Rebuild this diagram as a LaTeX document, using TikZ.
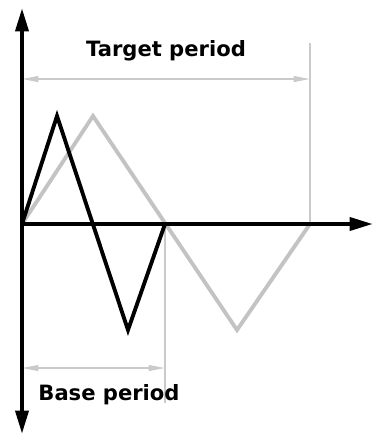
\documentclass[tikz,border=0pt]{standalone}
\usepackage{fontspec}
\setmainfont{DejaVu Sans}
\usepackage{xcolor}
\usetikzlibrary{
arrows.meta,
positioning
}
\definecolor{WaveGray}{HTML}{C3C3C3}
\definecolor{DimGray}{HTML}{CACACA}

\begin{document}
\begin{tikzpicture}[
    x=0.03cm,
    y=-0.03cm,
    font=\bfseries\fontsize{18}{21}\selectfont,
    >=Latex,
    axisline/.style={
        line width=3.5pt,
        black
    },
    waveline/.style={
        line width=3.3pt,
        line join=miter
    },
    dimline/.style={
        DimGray,
        line width=1.4pt,
        {Triangle[length=14pt,width=5pt]}-{Triangle[length=14pt,width=5pt]}
    },
    tickline/.style={
        DimGray,
        line width=0.9pt
    }
]

% =====================================================
% CANVAS
% =====================================================
\useasboundingbox (0,0) rectangle (373,436);

% =====================================================
% KEY POINTS
% =====================================================
\coordinate (origin) at (22,224);
\coordinate (ytop) at (22,8);
\coordinate (ybot) at (22,434);
\coordinate (xend) at (373,224);
\coordinate (basept) at (165,224);
\coordinate (targetpt) at (310,224);

% =====================================================
% PERIOD MARKERS
% =====================================================
\coordinate (targettop) at (310,43);
\coordinate (basebot) at (165,403);

\draw[tickline] (targetpt) -- (targettop);
\draw[tickline] (basept) -- (basebot);

\coordinate (targetl) at (22,79);
\coordinate (targetr) at (310,79);
\draw[dimline] (targetl) -- (targetr);

\coordinate (basel) at (22,368);
\coordinate (baser) at (165,368);
\draw[dimline] (basel) -- (baser);

% =====================================================
% TARGET WAVE (gray)
% =====================================================
\draw[
    waveline,
    WaveGray
]
(origin) -- (93,116) -- (237,330) -- (targetpt);

% =====================================================
% BASE WAVE (black)
% =====================================================
\draw[
    waveline,
    black
]
(origin) -- (57,116) -- (128,330) -- (basept);

% =====================================================
% AXES
% =====================================================
\draw[
    axisline,
    {Triangle[length=20pt,width=11pt]}-{Triangle[length=20pt,width=11pt]}
]
(ybot) -- (ytop);

\draw[
    axisline,
    -{Triangle[length=20pt,width=11pt]}
]
(origin) -- (xend);

% =====================================================
% LABELS
% =====================================================
\node (targetlab) at (166,51) {Target period};
\node (baselab) at (109,395) {Base period};

\end{tikzpicture}
\end{document}
